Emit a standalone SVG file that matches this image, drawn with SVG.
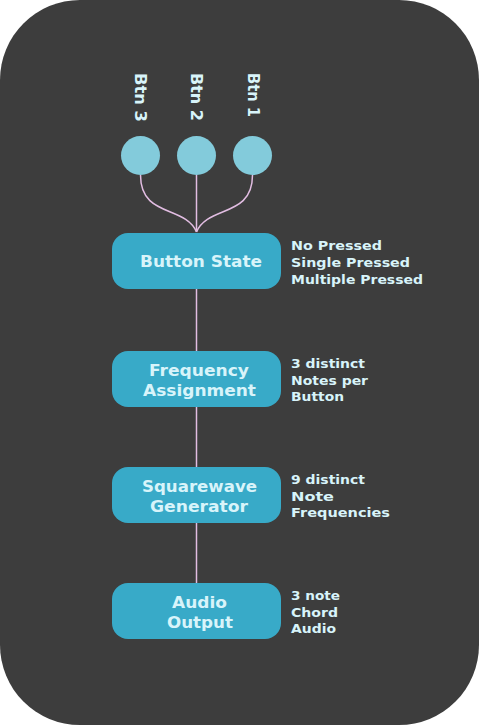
<svg xmlns="http://www.w3.org/2000/svg" width="479" height="725" viewBox="0 0 479 725">
<style>
.bg{fill:#3d3d3d}
.btn{fill:#83cbdb}
.node rect{fill:#38aac8}
.nt{font-family:"DejaVu Sans",sans-serif;font-weight:bold;font-size:15.5px;fill:#d8f4fa;text-anchor:middle}
.st{font-family:"DejaVu Sans",sans-serif;font-weight:bold;font-size:13px;fill:#d8f4fa}
.bt{font-family:"DejaVu Sans",sans-serif;font-weight:bold;font-size:16px;fill:#d8f4fa}
.c{stroke:#e2bde2;stroke-width:1.5;fill:none}
</style>
<rect class="bg" x="0" y="0" width="479" height="725" rx="80" ry="80"/>
<g id="connectors">
<path class="c" d="M140.5,175 C140.5,218 185,205 196.5,232"/>
<path class="c" d="M196.5,175 L196.5,232"/>
<path class="c" d="M252.5,175 C252.5,218 208,205 196.5,232"/>
<path class="c" d="M196.5,289 L196.5,351"/>
<path class="c" d="M196.5,407 L196.5,467"/>
<path class="c" d="M196.5,523 L196.5,583"/>
</g>
<g id="btn3"><circle class="btn" cx="140.5" cy="155.5" r="19.5"/><text class="bt" transform="translate(135,73) rotate(90)" textLength="49" lengthAdjust="spacingAndGlyphs">Btn 3</text></g>
<g id="btn2"><circle class="btn" cx="196.5" cy="155.5" r="19.5"/><text class="bt" transform="translate(191,73) rotate(90)" textLength="48" lengthAdjust="spacingAndGlyphs">Btn 2</text></g>
<g id="btn1"><circle class="btn" cx="252.5" cy="155.5" r="19.5"/><text class="bt" transform="translate(248,73) rotate(90)" textLength="44" lengthAdjust="spacingAndGlyphs">Btn 1</text></g>
<g id="button-state" class="node"><rect x="112" y="233" width="169" height="56" rx="16"/><text class="nt" x="201" y="267" textLength="122" lengthAdjust="spacingAndGlyphs">Button State</text>
<text class="st" x="291" y="250" textLength="91" lengthAdjust="spacingAndGlyphs">No Pressed</text><text class="st" x="291" y="267" textLength="119" lengthAdjust="spacingAndGlyphs">Single Pressed</text><text class="st" x="291" y="283.5" textLength="132" lengthAdjust="spacingAndGlyphs">Multiple Pressed</text></g>
<g id="frequency-assignment" class="node"><rect x="112" y="351" width="169" height="56" rx="16"/><text class="nt" x="199" y="376" textLength="100" lengthAdjust="spacingAndGlyphs">Frequency</text><text class="nt" x="199.5" y="396" textLength="113" lengthAdjust="spacingAndGlyphs">Assignment</text>
<text class="st" x="291" y="368" textLength="74" lengthAdjust="spacingAndGlyphs">3 distinct</text><text class="st" x="291" y="384.5" textLength="77" lengthAdjust="spacingAndGlyphs">Notes per</text><text class="st" x="291" y="401" textLength="53" lengthAdjust="spacingAndGlyphs">Button</text></g>
<g id="squarewave-generator" class="node"><rect x="112" y="467" width="169" height="56" rx="16"/><text class="nt" x="199.5" y="492" textLength="115" lengthAdjust="spacingAndGlyphs">Squarewave</text><text class="nt" x="199" y="512" textLength="98" lengthAdjust="spacingAndGlyphs">Generator</text>
<text class="st" x="291" y="484" textLength="74" lengthAdjust="spacingAndGlyphs">9 distinct</text><text class="st" x="291" y="500.5" textLength="43" lengthAdjust="spacingAndGlyphs">Note</text><text class="st" x="291" y="517" textLength="99" lengthAdjust="spacingAndGlyphs">Frequencies</text></g>
<g id="audio-output" class="node"><rect x="112" y="583" width="169" height="56" rx="16"/><text class="nt" x="199.5" y="608" textLength="55" lengthAdjust="spacingAndGlyphs">Audio</text><text class="nt" x="200" y="628" textLength="66" lengthAdjust="spacingAndGlyphs">Output</text>
<text class="st" x="291" y="600" textLength="49" lengthAdjust="spacingAndGlyphs">3 note</text><text class="st" x="291" y="616.5" textLength="47" lengthAdjust="spacingAndGlyphs">Chord</text><text class="st" x="291" y="633" textLength="45" lengthAdjust="spacingAndGlyphs">Audio</text></g>
</svg>
